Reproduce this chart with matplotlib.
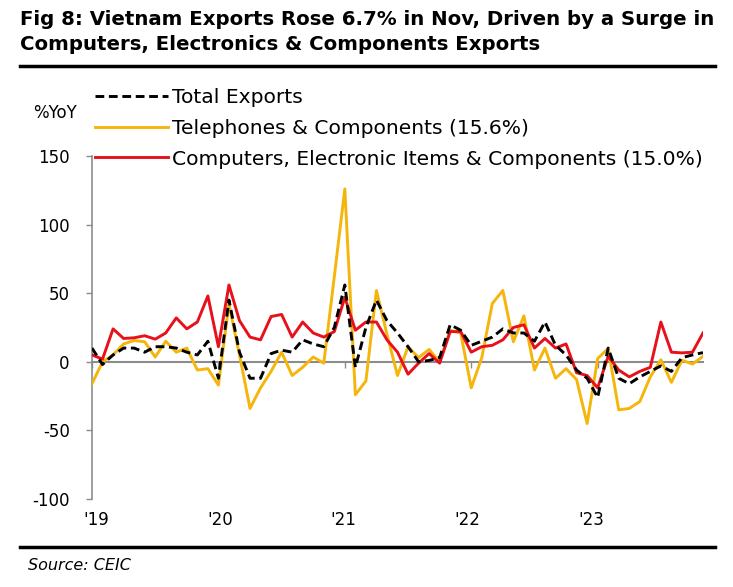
import numpy as np
import matplotlib.pyplot as plt
import matplotlib.transforms as mtransforms

# monthly %YoY, Jan 2019 .. Nov 2023
total_exports = [10, -2, 5, 10, 10, 7, 11, 11, 10, 7, 5, 15,
                 -12, 45, 7, -12, -12, 6, 8.5, 7, 16, 13, 11, 25,
                 56, -4, 25, 45, 30, 21, 11, 0, 1, 3, 27, 23,
                 12, 15, 18, 24, 21, 21, 15, 29, 12, 5, -6, -12,
                 -26, 10, -12, -16, -11, -7, -3, -7, 3, 5, 6.7]
telephones = [-16, 0, 5, 13, 15.5, 14.6, 3.5, 15, 7, 10, -6, -5,
              -17, 42, 5, -34, -19, -7, 7, -10, -4, 3.5, -1, 62,
              126, -24, -14, 52, 20, -10, 11, 3, 9, 0, 23, 21,
              -19, 3, 42.5, 52, 14.6, 33.5, -6, 10, -12, -5, -13, -45,
              2.4, 9.7, -35, -34, -29, -11, 1.5, -15, 1.2, -1.7, 4]
computers = [5, 2, 24, 17, 17.5, 19, 16.5, 21, 32, 24, 29, 48,
             11, 56, 30, 18, 16, 33, 34.5, 18, 29, 21, 18, 22,
             47, 23, 29, 29, 16, 7, -9, -1, 6, -1, 22, 22,
             7, 11, 12, 16, 25, 27, 10, 17, 10, 13, -8, -10,
             -19, 4, -6, -11, -7, -4, 29, 7, 6.5, 7, 21]
year_labels = ["'19", "'20", "'21", "'22", "'23"]
y_ticks = [150, 100, 50, 0, -50, -100]

months = np.arange(len(total_exports))

fig = plt.figure(figsize=(7.33, 5.87), dpi=100)
ax = fig.add_axes([92/733, 1-499/587, (703-92)/733, (499-156)/587])

ax.plot(months, telephones, color='#F5B50A', lw=2.1, label='Telephones & Components (15.6%)', zorder=3)
ax.plot(months, computers, color='#E8101A', lw=2.1, label='Computers, Electronic Items & Components (15.0%)', zorder=4)
ax.plot(months, total_exports, color='black', lw=2.1, dashes=(3, 1.6), label='Total Exports', zorder=5)

ax.set_xlim(0, len(total_exports) - 1)
ax.set_ylim(-100, 150)
ax.set_yticks(y_ticks)
ax.set_yticklabels([str(v) for v in y_ticks], fontsize=12)

for s in ['top', 'right']:
    ax.spines[s].set_visible(False)
ax.spines['left'].set_color('#8c8c8c')
ax.spines['left'].set_linewidth(1.2)
ax.spines['bottom'].set_position(('data', 0))
ax.spines['bottom'].set_color('#8c8c8c')
ax.spines['bottom'].set_linewidth(1.5)
ax.tick_params(axis='y', colors='#8c8c8c', labelcolor='black', length=4, width=1, pad=12)
year_pos = np.arange(0, len(total_exports), 12)
ax.set_xticks(year_pos)
ax.tick_params(axis='x', colors='#8c8c8c', length=4, width=1, labelbottom=False)

trans = mtransforms.blended_transform_factory(ax.transData, ax.transAxes)
for k, (p, lab) in enumerate(zip(year_pos, year_labels)):
    ax.text(p + 0.4 - 0.25 * k, -0.062, lab, transform=trans, ha='center', va='center', fontsize=12)

fig.text(55/733, 1-113/587, '%YoY', ha='center', va='center', fontsize=12)

h, l = ax.get_legend_handles_labels()
order = [2, 0, 1]
fig.legend([h[i] for i in order], [l[i] for i in order], loc='upper left',
           bbox_to_anchor=(95/733, 1-88/587), frameon=False, fontsize=14.6,
           handlelength=3.6, handletextpad=0.2, labelspacing=0.58,
           borderpad=0, borderaxespad=0)

fig.text(20/733, 1-10/587, 'Fig 8: Vietnam Exports Rose 6.7% in Nov, Driven by a Surge in\n'
         'Computers, Electronics & Components Exports',
         ha='left', va='top', fontsize=14.2, fontweight='bold', linespacing=1.4)
fig.add_artist(plt.Line2D([20/733, 715/733], [1-66/587, 1-66/587], color='black', lw=2.5))
fig.add_artist(plt.Line2D([20/733, 715/733], [1-547/587, 1-547/587], color='black', lw=2.5))
fig.text(28/733, 1-565/587, 'Source: CEIC', ha='left', va='center', fontsize=11.5, style='italic')

fig.savefig('out.png', dpi=100)
